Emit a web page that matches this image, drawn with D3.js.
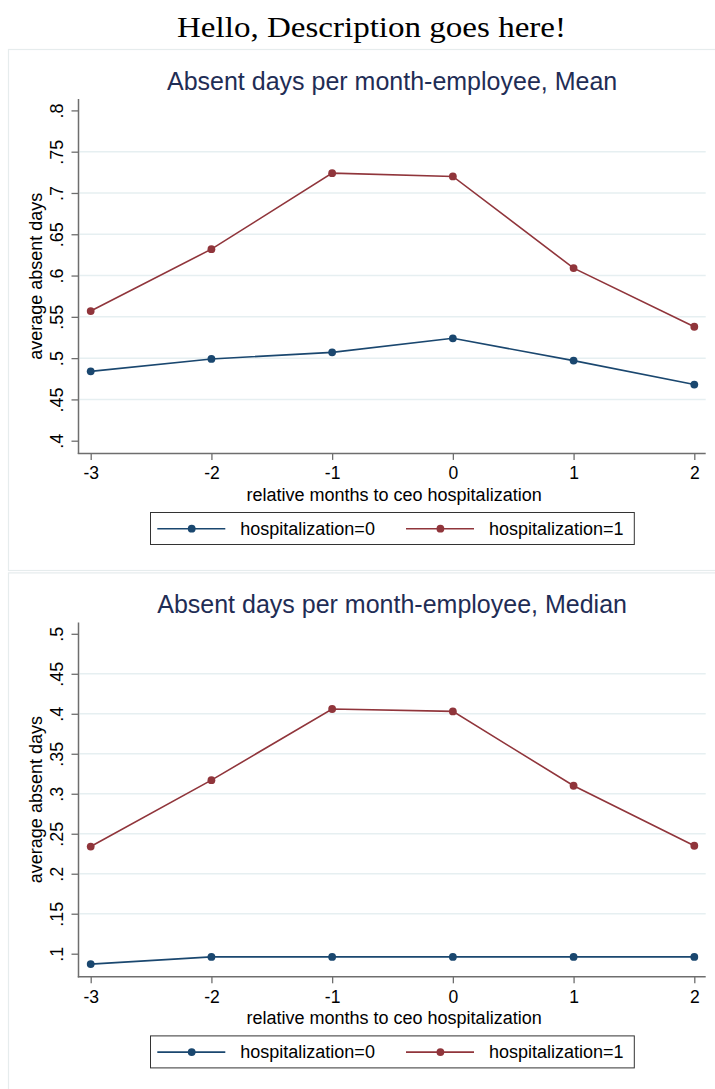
<!DOCTYPE html>
<html>
<head>
<meta charset="utf-8">
<script src="https://cdn.jsdelivr.net/npm/d3@7"></script>
<style>
  html, body { margin: 0; padding: 0; background: #ffffff; }
  svg { display: block; }
  text { font-family: "Liberation Sans", Arial, sans-serif; }
</style>
</head>
<body>
<svg id="chart" width="715" height="1089"></svg>
<script>
// Relative months to the CEO hospitalization
const months = [-3, -2, -1, 0, 1, 2];

// Mean absent days per month-employee
const meanNoHosp = [0.484, 0.499, 0.507, 0.524, 0.497, 0.468];
const meanHosp   = [0.557, 0.632, 0.724, 0.720, 0.609, 0.538];
const meanTicks  = [0.4, 0.45, 0.5, 0.55, 0.6, 0.65, 0.7, 0.75, 0.8];

// Median absent days per month-employee
const medianNoHosp = [0.087, 0.096, 0.096, 0.096, 0.096, 0.096];
const medianHosp   = [0.234, 0.317, 0.406, 0.403, 0.310, 0.235];
const medianTicks  = [0.1, 0.15, 0.2, 0.25, 0.3, 0.35, 0.4, 0.45, 0.5];

const seriesNames = ["hospitalization=0", "hospitalization=1"];

const svg = d3.select("#chart");
const NAVY = "#1a476f", MAROON = "#90353b";
const AXIS = "#6e6e6e", GRID = "#e6eff1", TITLE = "#1f2d55";

// Page header
svg.append("text")
  .attr("x", 371.5).attr("y", 37)
  .attr("text-anchor", "middle")
  .attr("textLength", 389).attr("lengthAdjust", "spacingAndGlyphs")
  .style("font-family", "'Liberation Serif', 'DejaVu Serif', serif")
  .style("font-size", "30px")
  .attr("fill", "#000")
  .text("Hello, Description goes here!");

// Tick label formatting: drop the leading zero (".5", ".45"), plain hyphen for negatives
const fmtY = v => String(+v.toFixed(2)).replace(/^0\./, ".");
const fmtX = v => String(v);

function drawPanel(top, title, ticks, s0, s1) {
  const g = svg.append("g").attr("transform", `translate(0,${top})`);

  // panel frame
  g.append("rect")
    .attr("x", 8.5).attr("y", 0.5)
    .attr("width", 712).attr("height", 521)
    .attr("fill", "#fff").attr("stroke", "#e6eced").attr("stroke-width", 1.2);

  const plotL = 78.5, plotR = 705.7, plotT = 50, plotB = 404.4;

  const x = d3.scaleLinear().domain(d3.extent(months)).range([90.7, 694.3]);
  const lo = Math.min(d3.min(ticks), d3.min(s0), d3.min(s1));
  const hi = Math.max(d3.max(ticks), d3.max(s0), d3.max(s1));
  const y = d3.scaleLinear().domain([lo, hi]).range([391.7, 61.4]);

  // title
  g.append("text")
    .attr("x", (plotL + plotR) / 2).attr("y", 41)
    .attr("text-anchor", "middle")
    .style("font-size", "25px")
    .attr("fill", TITLE)
    .text(title);

  // gridlines (interior ticks only)
  g.append("g").selectAll("line")
    .data(ticks.slice(1, -1))
    .join("line")
    .attr("x1", plotL + 1).attr("x2", plotR)
    .attr("y1", d => y(d)).attr("y2", d => y(d))
    .attr("stroke", GRID).attr("stroke-width", 1.5);

  // y axis
  const yAx = g.append("g")
    .attr("transform", `translate(${plotL},0)`)
    .call(d3.axisLeft(y).tickValues(ticks).tickSize(7).tickSizeOuter(0).tickFormat(fmtY));
  yAx.select(".domain").remove();
  yAx.selectAll(".tick line").attr("stroke", AXIS).attr("stroke-width", 1.3);
  yAx.selectAll(".tick text")
    .attr("x", 0).attr("dy", 0)
    .attr("text-anchor", "middle")
    .attr("transform", "translate(-15.2,0) rotate(-90)")
    .style("font-size", "18px")
    .style("font-family", "'Liberation Sans', Arial, sans-serif")
    .attr("fill", "#000");

  // x axis
  const xAx = g.append("g")
    .attr("transform", `translate(0,${plotB})`)
    .call(d3.axisBottom(x).tickValues(months).tickSize(6.5).tickPadding(7).tickFormat(fmtX));
  xAx.select(".domain").remove();
  xAx.selectAll(".tick line").attr("stroke", AXIS).attr("stroke-width", 1.3);
  xAx.selectAll(".tick text")
    .style("font-size", "17.5px")
    .style("font-family", "'Liberation Sans', Arial, sans-serif")
    .attr("fill", "#000");

  // axis lines
  g.append("line")
    .attr("x1", plotL).attr("x2", plotL).attr("y1", plotT).attr("y2", plotB + 0.7)
    .attr("stroke", AXIS).attr("stroke-width", 1.5);
  g.append("line")
    .attr("x1", plotL - 0.7).attr("x2", plotR).attr("y1", plotB).attr("y2", plotB)
    .attr("stroke", AXIS).attr("stroke-width", 1.5);

  // axis titles
  g.append("text")
    .attr("transform", `translate(42,${(plotT + plotB) / 2}) rotate(-90)`)
    .attr("text-anchor", "middle")
    .style("font-size", "18px")
    .attr("fill", "#000")
    .text("average absent days");
  g.append("text")
    .attr("x", (plotL + plotR) / 2 + 2).attr("y", 451.5)
    .attr("text-anchor", "middle")
    .style("font-size", "18px")
    .attr("fill", "#000")
    .text("relative months to ceo hospitalization");

  // series
  const line = d3.line().x((d, i) => x(months[i])).y(d => y(d));
  [[s0, NAVY], [s1, MAROON]].forEach(([vals, col]) => {
    g.append("path")
      .datum(vals)
      .attr("d", line)
      .attr("fill", "none").attr("stroke", col).attr("stroke-width", 1.6);
    g.append("g").selectAll("circle")
      .data(vals)
      .join("circle")
      .attr("cx", (d, i) => x(months[i])).attr("cy", d => y(d))
      .attr("r", 3.9).attr("fill", col);
  });

  // legend
  const lg = g.append("g");
  lg.append("rect")
    .attr("x", 150.5).attr("y", 463.5)
    .attr("width", 483.8).attr("height", 32)
    .attr("fill", "#fff").attr("stroke", "#333").attr("stroke-width", 1);
  const entries = [
    { name: seriesNames[0], col: NAVY, x0: 157.3 },
    { name: seriesNames[1], col: MAROON, x0: 406 }
  ];
  entries.forEach(e => {
    const cy = 479.7;
    lg.append("line")
      .attr("x1", e.x0).attr("x2", e.x0 + 68)
      .attr("y1", cy).attr("y2", cy)
      .attr("stroke", e.col).attr("stroke-width", 1.6);
    lg.append("circle")
      .attr("cx", e.x0 + 34.4).attr("cy", cy).attr("r", 3.9).attr("fill", e.col);
    lg.append("text")
      .attr("x", e.x0 + 83).attr("y", cy + 6.4)
      .style("font-size", "18px")
      .attr("fill", "#000")
      .text(e.name);
  });
}

drawPanel(49, "Absent days per month-employee, Mean", meanTicks, meanNoHosp, meanHosp);
drawPanel(572.4, "Absent days per month-employee, Median", medianTicks, medianNoHosp, medianHosp);
</script>
</body>
</html>
